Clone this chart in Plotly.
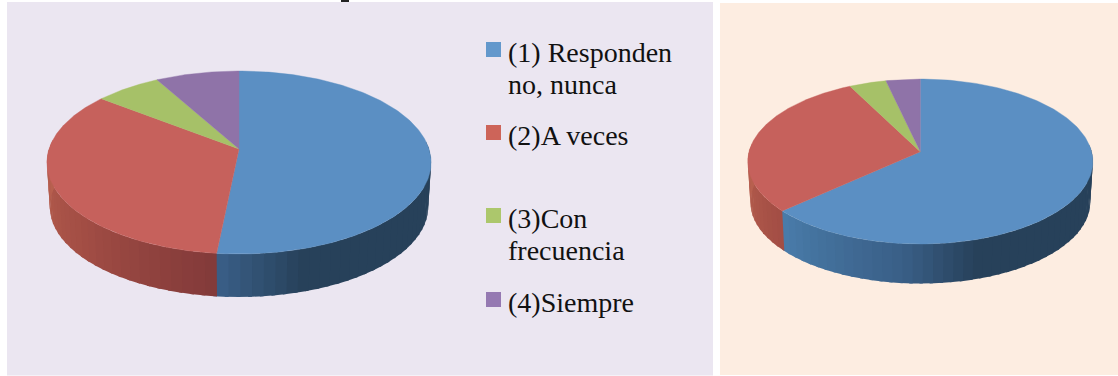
import numpy as np
import plotly.graph_objects as go

W, H = 1118, 376

categories = ["(1) Responden no, nunca", "(2)A veces", "(3)Con frecuencia", "(4)Siempre"]
legend_lines = [["(1) Responden", "no, nunca"], ["(2)A veces"], ["(3)Con", "frecuencia"], ["(4)Siempre"]]
values_left = [51.6, 33.9, 6.4, 8.1]
values_right = [63.3, 29.2, 3.9, 3.6]

top_colors = ["#5b8fc3", "#c6615c", "#a6c168", "#8f73a8"]
key_colors = ["#6398cc", "#cd6459", "#acc76c", "#9579b2"]
side_stops = {
    0: [(163, "#27415a"), (185, "#3a5f87"), (228, "#4a7dab"), (280, "#4a7dab")],
    1: [(100, "#6e3232"), (185, "#823a3a"), (228, "#a34e45"), (270, "#b8604f"), (285, "#b8604f")],
    2: [(0, "#7f9448"), (360, "#7f9448")],
    3: [(0, "#6a5280"), (360, "#6a5280")],
}
LEFT = dict(cx=239.0, cy=149.0, R=190.0, h=89.5, p=0.1475, drop=44.6, shrink=0.985)
RIGHT = dict(cx=920.3, cy=151.7, R=171.3, h=81.3, p=0.119, drop=41.0, shrink=0.985)


def hex2rgb(c):
    return np.array([int(c[i:i + 2], 16) for i in (1, 3, 5)], float)


def side_color(i, deg):
    stops = side_stops[i]
    xs = [s[0] for s in stops]
    chans = [np.interp(deg, xs, [hex2rgb(s[1])[k] for s in stops]) for k in range(3)]
    return "rgb(%d,%d,%d)" % tuple(chans)


def project(deg, g, lower=False):
    t = np.radians(deg)
    u, v = np.sin(t), np.cos(t)
    d = 1 + g["p"] * v
    x, y = g["R"] * u / d, -g["h"] * v / d
    if lower:
        return g["cx"] + x * g["shrink"], g["cy"] + g["drop"] + y * g["shrink"]
    return g["cx"] + x, g["cy"] + y


def add_pie(fig, values, g):
    edges = np.concatenate([[0], np.cumsum(values)]) / np.sum(values) * 360
    # extruded wall, strip by strip, each tucked under the next one to avoid seams
    for i in range(len(values)):
        a0, a1 = max(edges[i], 85), min(edges[i + 1], 275)
        if a1 <= a0:
            continue
        n = max(1, int((a1 - a0) / 3))
        bounds = np.linspace(a0, a1, n + 1)
        for b0, b1 in zip(bounds[:-1], bounds[1:]):
            ang = np.linspace(b0, b1 + 1.0, 4)
            xt, yt = project(ang, g)
            xb, yb = project(ang[::-1], g, lower=True)
            col = side_color(i, (b0 + b1) / 2)
            fig.add_trace(go.Scatter(
                x=np.concatenate([xt, xb]), y=np.concatenate([yt, yb]),
                mode="lines", fill="toself", fillcolor=col,
                line=dict(width=0), hoverinfo="skip", showlegend=False))
    # top face
    for i, name in enumerate(categories):
        ang = np.linspace(edges[i], edges[i + 1], 180)
        xs, ys = project(ang, g)
        fig.add_trace(go.Scatter(
            x=np.concatenate([[g["cx"]], xs, [g["cx"]]]),
            y=np.concatenate([[g["cy"]], ys, [g["cy"]]]),
            mode="lines", fill="toself", fillcolor=top_colors[i],
            line=dict(color=top_colors[i], width=0.4), name=name, showlegend=False))


fig = go.Figure()
add_pie(fig, values_left, LEFT)
add_pie(fig, values_right, RIGHT)

shapes = [
    dict(type="rect", x0=7, x1=713, y0=2, y1=375.5, fillcolor="#ebe6f1", line_width=0, layer="below"),
    dict(type="rect", x0=720, x1=W, y0=3, y1=375, fillcolor="#fdede1", line_width=0, layer="below"),
    # unreadable stub of the cropped heading at the top edge of the picture
    dict(type="rect", x0=341, x1=349, y0=0, y1=2, fillcolor="#222222", line_width=0),
]
annotations = []
key_tops = [42, 125, 208, 292]
line_gap = 32.5
for i, lines in enumerate(legend_lines):
    top = key_tops[i]
    shapes.append(dict(type="rect", x0=486, x1=501, y0=top, y1=top + 15,
                       fillcolor=key_colors[i], line_width=0))
    for j, line in enumerate(lines):
        annotations.append(dict(
            x=505.5, y=top + 10 + j * line_gap, text=line, showarrow=False, xanchor="left", yanchor="middle",
            xref="x", yref="y", font=dict(family="Liberation Serif", size=28, color="#111111")))

fig.update_layout(
    width=W, height=H, margin=dict(l=0, r=0, t=0, b=0),
    paper_bgcolor="white", plot_bgcolor="white", showlegend=False,
    xaxis=dict(range=[0, W], visible=False, fixedrange=True),
    yaxis=dict(range=[H, 0], visible=False, fixedrange=True),
    shapes=shapes, annotations=annotations,
)
fig.write_html("out.html", config=dict(displayModeBar=False),
               post_script="document.body.style.margin='0';document.body.style.overflow='hidden';")
